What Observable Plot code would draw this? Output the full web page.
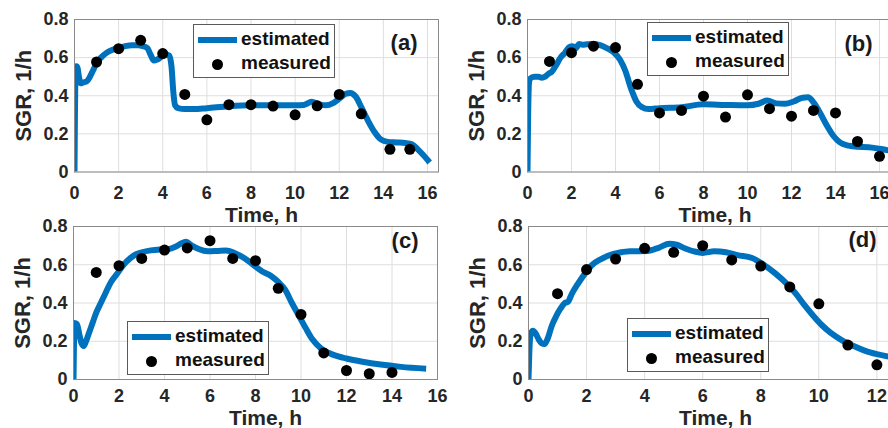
<!DOCTYPE html>
<html>
<head>
<meta charset="utf-8">
<script src="https://cdn.jsdelivr.net/npm/d3@7"></script>
<script src="https://cdn.jsdelivr.net/npm/@observablehq/plot@0.6"></script>
<style>
  body { margin: 0; background: #fff; }
  #wrap { position: relative; width: 888px; height: 428px; overflow: hidden;
          font-family: "Liberation Sans", Arial, Helvetica, sans-serif; font-weight: bold; color: #262626; }
  .panel { position: absolute; }
  .legend { position: absolute; border: 1px solid #5a5a5a; background: #fff; box-sizing: border-box;
            width: 142px; height: 54px; font-size: 19px; color: #111; }
  .legend .sw-line { position: absolute; left: 4px; width: 39px; height: 6px; background: #0072BD; }
  .legend .sw-dot { position: absolute; width: 11px; height: 11px; border-radius: 50%; background: #000; }
  .legend .lab { position: absolute; left: 47px; line-height: 20px; white-space: nowrap; }
</style>
</head>
<body>
<div id="wrap"></div>
<script>
// ---------- data ----------
const yTicks = [0, 0.2, 0.4, 0.6, 0.8];
const xTicks16 = [0, 2, 4, 6, 8, 10, 12, 14, 16];
const xTicks12 = [0, 2, 4, 6, 8, 10, 12];
const seriesNames = ["estimated", "measured"];
const panelLabels = ["(a)", "(b)", "(c)", "(d)"];

// (a)
const estTimeA = [0, 0.02, 0.05, 0.09, 0.14, 0.2, 0.28, 0.4, 0.55, 0.7, 0.85, 1.0, 1.2, 1.45, 1.7, 2.0, 2.3, 2.6, 2.9, 3.1, 3.3, 3.45, 3.6, 3.75, 3.95, 4.15, 4.3, 4.4, 4.48, 4.56, 4.7, 5.0, 5.4, 6.0, 7.0, 8.0, 9.0, 10.0, 10.4, 10.75, 11.1, 11.4, 11.7, 12.0, 12.3, 12.5, 12.75, 13.0, 13.3, 13.6, 13.9, 14.2, 14.6, 15.0, 15.3, 15.55, 15.8, 16.1];
const estSgrA  = [0, 0.3, 0.52, 0.555, 0.545, 0.5, 0.465, 0.47, 0.475, 0.5, 0.535, 0.57, 0.6, 0.625, 0.64, 0.65, 0.66, 0.665, 0.665, 0.66, 0.65, 0.615, 0.585, 0.59, 0.605, 0.615, 0.61, 0.55, 0.42, 0.35, 0.335, 0.33, 0.33, 0.335, 0.345, 0.35, 0.35, 0.35, 0.352, 0.368, 0.355, 0.35, 0.36, 0.385, 0.41, 0.415, 0.395, 0.34, 0.27, 0.21, 0.17, 0.158, 0.155, 0.152, 0.145, 0.12, 0.09, 0.05];
const measTimeA = [1, 2, 3, 4, 5, 6, 7, 8, 9, 10, 11, 12, 13, 14.3, 15.2];
const measSgrA  = [0.577, 0.647, 0.691, 0.621, 0.407, 0.274, 0.353, 0.353, 0.346, 0.30, 0.347, 0.407, 0.305, 0.119, 0.119];

// (b)
const estTimeB = [0, 0.03, 0.07, 0.12, 0.3, 0.5, 0.65, 0.8, 0.95, 1.1, 1.3, 1.5, 1.7, 1.9, 2.05, 2.2, 2.35, 2.5, 2.7, 3.0, 3.3, 3.6, 3.9, 4.2, 4.45, 4.7, 4.95, 5.2, 5.5, 6.0, 7.0, 8.0, 9.0, 10.0, 10.5, 10.9, 11.3, 11.7, 12.1, 12.5, 12.75, 13.0, 13.3, 13.6, 13.9, 14.2, 14.6, 15.0, 15.5, 16.0, 16.5];
const estSgrB  = [0, 0.3, 0.47, 0.49, 0.5, 0.5, 0.495, 0.5, 0.515, 0.525, 0.56, 0.6, 0.625, 0.655, 0.66, 0.65, 0.672, 0.668, 0.67, 0.672, 0.665, 0.65, 0.63, 0.59, 0.53, 0.44, 0.37, 0.34, 0.33, 0.335, 0.34, 0.355, 0.352, 0.35, 0.358, 0.375, 0.36, 0.358, 0.37, 0.39, 0.392, 0.365, 0.31, 0.245, 0.19, 0.155, 0.138, 0.132, 0.13, 0.122, 0.112];
const measTimeB = [1, 2, 3, 4, 5, 6, 7, 8, 9, 10, 11, 12, 13, 14, 15, 16];
const measSgrB  = [0.58, 0.626, 0.66, 0.653, 0.46, 0.31, 0.323, 0.398, 0.288, 0.405, 0.332, 0.293, 0.323, 0.31, 0.16, 0.082];

// (c)
const estTimeC = [0, 0.02, 0.05, 0.15, 0.25, 0.35, 0.45, 0.55, 0.7, 0.85, 1.0, 1.2, 1.4, 1.65, 1.9, 2.2, 2.5, 2.75, 3.0, 3.4, 3.8, 4.2, 4.5, 4.8, 4.95, 5.2, 5.5, 5.9, 6.3, 6.7, 7.1, 7.5, 7.9, 8.3, 8.7, 9.0, 9.3, 9.6, 9.9, 10.2, 10.5, 10.9, 11.4, 12.0, 12.7, 13.5, 14.4, 15.5];
const estSgrC  = [0, 0.18, 0.295, 0.29, 0.24, 0.19, 0.175, 0.2, 0.25, 0.3, 0.35, 0.4, 0.45, 0.51, 0.55, 0.6, 0.635, 0.655, 0.665, 0.675, 0.68, 0.682, 0.695, 0.715, 0.72, 0.7, 0.682, 0.67, 0.672, 0.675, 0.66, 0.635, 0.6, 0.565, 0.54, 0.51, 0.47, 0.40, 0.335, 0.27, 0.21, 0.16, 0.13, 0.11, 0.093, 0.078, 0.066, 0.056];
const measTimeC = [1, 2, 3, 4, 5, 6, 7, 8, 9, 10, 11, 12, 13, 14];
const measSgrC  = [0.56, 0.595, 0.633, 0.677, 0.688, 0.726, 0.633, 0.621, 0.477, 0.34, 0.139, 0.047, 0.03, 0.037];

// (d)
const estTimeD = [0, 0.03, 0.08, 0.15, 0.25, 0.35, 0.45, 0.55, 0.65, 0.8, 0.95, 1.1, 1.25, 1.35, 1.5, 1.7, 1.95, 2.2, 2.5, 2.9, 3.5, 4.1, 4.5, 4.85, 5.1, 5.4, 5.7, 6.0, 6.4, 6.8, 7.2, 7.7, 8.1, 8.5, 8.9, 9.2, 9.5, 9.8, 10.1, 10.4, 10.8, 11.2, 11.6, 12.0, 12.4];
const estSgrD  = [0, 0.15, 0.24, 0.255, 0.24, 0.21, 0.19, 0.185, 0.21, 0.28, 0.33, 0.37, 0.4, 0.405, 0.45, 0.5, 0.555, 0.6, 0.63, 0.655, 0.67, 0.672, 0.69, 0.71, 0.705, 0.685, 0.67, 0.662, 0.67, 0.665, 0.65, 0.635, 0.6, 0.555, 0.5, 0.45, 0.39, 0.335, 0.285, 0.245, 0.205, 0.175, 0.15, 0.133, 0.12];
const measTimeD = [1, 2, 3, 4, 5, 6, 7, 8, 9, 10, 11, 12];
const measSgrD  = [0.449, 0.575, 0.63, 0.686, 0.665, 0.70, 0.625, 0.593, 0.484, 0.396, 0.18, 0.077];

// ---------- drawing ----------
const BLUE = "#0072BD";
const zip = (xs, ys) => xs.map((x, i) => ({x, y: ys[i]}));
const yFmt = d => d === 0 ? "0" : d.toFixed(1);

const panels = [
  {est: zip(estTimeA, estSgrA), meas: zip(measTimeA, measSgrA), xDomain: [0, 16.5], xTicks: xTicks16,
   left: 0, top: 0, width: 444, height: 214, mt: 19, mb: 42.5, ml: 74, mr: 6, tp: 14,
   label: panelLabels[0], ldx: -21, ldy: 23, xlx: 5, xly: 49.5,
   legend: {left: 193, top: 24}},
  {est: zip(estTimeB, estSgrB), meas: zip(measTimeB, measSgrB), xDomain: [0, 16.5], xTicks: xTicks16,
   left: 444, top: 0, width: 448, height: 214, mt: 19, mb: 42.5, ml: 83, mr: 2, tp: 14,
   label: panelLabels[1], ldx: -18, ldy: 24, xlx: 6, xly: 49.5,
   legend: {left: 647, top: 22}},
  {est: zip(estTimeC, estSgrC), meas: zip(measTimeC, measSgrC), xDomain: [0, 16], xTicks: xTicks16,
   left: 0, top: 214, width: 444, height: 214, mt: 12, mb: 49, ml: 73, mr: 7, tp: 10,
   label: panelLabels[2], ldx: -19, ldy: 14, xlx: 10, xly: 45,
   legend: {left: 127, top: 321}},
  {est: zip(estTimeD, estSgrD), meas: zip(measTimeD, measSgrD), xDomain: [0, 12.4], xTicks: xTicks12,
   left: 444, top: 214, width: 444, height: 214, mt: 12, mb: 49, ml: 84, mr: 0, tp: 10,
   label: panelLabels[3], ldx: -12, ldy: 13, xlx: 7, xly: 45,
   legend: {left: 627, top: 318}}
];

const wrap = document.getElementById("wrap");

for (const p of panels) {
  const svg = Plot.plot({
    width: p.width, height: p.height,
    marginTop: p.mt, marginBottom: p.mb, marginLeft: p.ml, marginRight: p.mr,
    style: {background: "transparent", overflow: "visible", fontFamily: '"Liberation Sans", Arial, sans-serif',
            fontWeight: "bold", fontSize: "18px", color: "#262626"},
    x: {domain: p.xDomain},
    y: {domain: [0, 0.8]},
    marks: [
      Plot.gridX(p.xTicks, {stroke: "#dedede", strokeOpacity: 1, strokeWidth: 1}),
      Plot.gridY(yTicks, {stroke: "#dedede", strokeOpacity: 1, strokeWidth: 1}),
      Plot.axisX({ticks: p.xTicks, tickSize: 0, tickPadding: p.tp, tickFormat: d => String(d), label: null, fontSize: 18}),
      Plot.axisY({ticks: yTicks, tickSize: 0, tickPadding: 6, tickFormat: yFmt, label: null, fontSize: 18}),
      Plot.line(p.est, {x: "x", y: "y", stroke: BLUE, strokeWidth: 6, curve: "monotone-x",
                        strokeLinejoin: "round", strokeLinecap: "butt", clip: true}),
      Plot.dot(p.meas, {x: "x", y: "y", r: 5.5, fill: "#000", stroke: null}),
      Plot.frame({stroke: "#8a8a8a", strokeWidth: 1}),
      Plot.text([p.label], {frameAnchor: "top-right", text: d => d, textAnchor: "end", lineAnchor: "middle",
                            dx: p.ldx, dy: p.ldy, fontSize: 22, fontWeight: "bold", fill: "#1a1a1a"}),
      Plot.text(["Time, h"], {frameAnchor: "bottom", text: d => d, textAnchor: "middle", lineAnchor: "bottom",
                              dx: p.xlx, dy: p.xly, fontSize: 21, fontWeight: "bold", fill: "#262626"}),
      Plot.text(["SGR, 1/h"], {frameAnchor: "left", text: d => d, textAnchor: "middle", lineAnchor: "middle",
                               rotate: -90, dx: -51, fontSize: 22, fontWeight: "bold", fill: "#262626"})
    ]
  });
  svg.classList.add("panel");
  svg.style.left = p.left + "px";
  svg.style.top = p.top + "px";
  svg.style.maxWidth = "none";
  wrap.appendChild(svg);
}

// legends (HTML overlay)
for (const p of panels) {
  const lg = document.createElement("div");
  lg.className = "legend";
  lg.style.left = p.legend.left + "px";
  lg.style.top = p.legend.top + "px";
  const line = document.createElement("div");
  line.className = "sw-line"; line.style.top = (15 - 3) + "px";
  const dot = document.createElement("div");
  dot.className = "sw-dot"; dot.style.left = (23 - 5.5) + "px"; dot.style.top = (39 - 5.5) + "px";
  const t1 = document.createElement("div");
  t1.className = "lab"; t1.style.top = (15 - 11) + "px"; t1.textContent = seriesNames[0];
  const t2 = document.createElement("div");
  t2.className = "lab"; t2.style.top = (39 - 11) + "px"; t2.textContent = seriesNames[1];
  lg.append(line, dot, t1, t2);
  wrap.appendChild(lg);
}
</script>
</body>
</html>
